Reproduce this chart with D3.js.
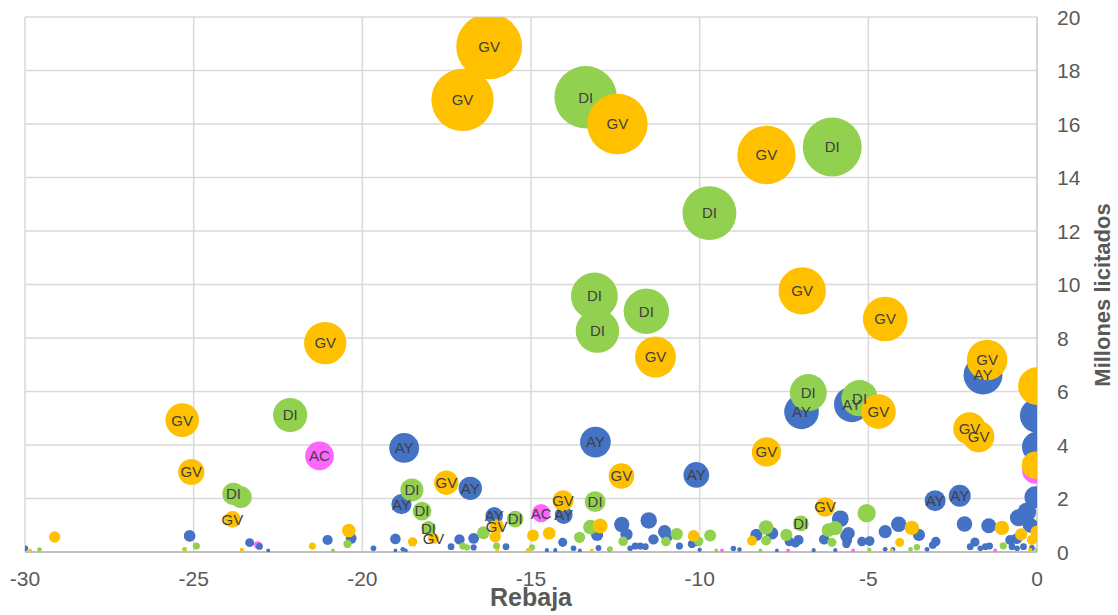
<!DOCTYPE html>
<html>
    <head>
        <title>Rebaja vs Millones licitados</title>
        <script src="https://d3js.org/d3.v7.min.js"></script>
        <style>
            body { margin: 0; background: #fff; }
            svg { display: block; font-family: "Liberation Sans", Arial, sans-serif; }
        </style>
    </head>
    <body>
        <script>
            // [rebaja, millones, label?]
            const AC = [
                [-21.27, 3.59, 1], [-14.7, 1.45, 1],
                [-0.05, 3.05], [-23.1, 0.26], [-9.34, 0.06], [-7.38, 0.06], [-5.45, 0.06], [-1.24, 0.06]
            ];
            const AY = [
                [-18.76, 3.89, 1], [-13.09, 4.11, 1], [-10.1, 2.88, 1], [-6.98, 5.24, 1], [-5.49, 5.52, 1],
                [-1.6, 6.62, 1], [-18.84, 1.79, 1], [-16.8, 2.38, 1], [-16.09, 1.35, 1], [-14.03, 1.38, 1],
                [-3.02, 1.92, 1], [-2.29, 2.1, 1],
                [0, 5.1], [0, 3.93], [-0.05, 2.05], [-0.3, 1.5], [-0.55, 1.28], [-0.2, 1.0],
                [-29.99, 0.14], [-25.12, 0.6], [-23.34, 0.35], [-23.05, 0.21], [-22.79, 0.06], [-21.03, 0.45],
                [-20.33, 0.51], [-19.67, 0.14], [-19.02, 0.49], [-19.02, 0.06], [-18.8, 0.1], [-18.71, 0.06],
                [-17.37, 0.2], [-17.12, 0.47], [-16.7, 0.51], [-16.7, 0.17], [-15.74, 0.2], [-14.53, 0.07],
                [-14.28, 0.07], [-14.06, 0.36], [-13.74, 0.14], [-13.55, 0.06], [-13.04, 0.64], [-13.0, 0.15],
                [-12.67, 0.1], [-12.31, 1.03], [-12.17, 0.66], [-12.06, 0.14], [-11.91, 0.22], [-11.76, 0.22],
                [-11.61, 0.2], [-11.51, 1.18], [-11.37, 0.47], [-11.04, 0.76], [-10.97, 0.57], [-10.6, 0.22],
                [-10.23, 0.3], [-10.1, 0.39], [-10.0, 0.08], [-9.0, 0.13], [-8.82, 0.09], [-8.32, 0.64],
                [-7.86, 0.7], [-7.71, 0.06], [-7.34, 0.39], [-7.07, 0.45], [-7.16, 0.33], [-6.62, 0.07],
                [-6.31, 0.47], [-5.83, 1.24], [-5.98, 0.07], [-5.59, 0.7], [-5.66, 0.6], [-5.63, 0.45],
                [-5.65, 0.3], [-5.19, 0.39], [-4.96, 0.41], [-4.5, 0.76], [-4.5, 0.1], [-4.27, 0.1],
                [-4.1, 1.04], [-3.5, 0.64], [-3.26, 0.1], [-3.09, 0.26], [-3.0, 0.39], [-2.15, 1.05],
                [-1.98, 0.2], [-1.84, 0.37], [-1.68, 0.14], [-1.53, 0.2], [-1.43, 0.98], [-1.41, 0.22],
                [-0.79, 0.45], [-0.74, 0.2], [-0.59, 0.14], [-0.4, 0.2], [-0.6, 0.5], [-0.15, 0.15]
            ];
            const DI = [
                [-13.38, 17.0, 1], [-6.07, 15.14, 1], [-9.71, 12.67, 1], [-13.12, 9.57, 1], [-13.03, 8.26, 1],
                [-11.58, 9.0, 1], [-22.14, 5.12, 1], [-6.78, 5.96, 1], [-5.26, 5.75, 1], [-23.82, 2.17, 1],
                [-18.53, 2.32, 1], [-18.23, 1.53, 1], [-18.04, 0.89, 1], [-15.47, 1.23, 1], [-13.1, 1.88, 1],
                [-7.0, 1.07, 1],
                [-23.6, 2.05], [-29.57, 0.09], [-25.27, 0.1], [-24.92, 0.22], [-20.87, 0.06], [-20.44, 0.3],
                [-17.02, 0.22], [-16.9, 0.17], [-16.41, 0.72], [-16.02, 0.22], [-14.97, 0.17], [-13.56, 0.55],
                [-13.24, 0.93], [-12.65, 0.12], [-12.27, 0.4], [-11.0, 0.39], [-10.68, 0.67], [-10.03, 0.4],
                [-9.69, 0.62], [-9.51, 0.06], [-8.2, 0.06], [-8.03, 0.92], [-8.03, 0.43], [-7.43, 0.64],
                [-6.18, 0.82], [-5.98, 0.89], [-6.08, 0.36], [-5.05, 1.45], [-4.97, 0.08], [-3.75, 0.1],
                [-3.56, 0.18], [-1.0, 0.23], [0, 0.08]
            ];
            const GV = [
                [-16.24, 18.9, 1], [-17.03, 16.9, 1], [-12.44, 16.0, 1], [-8.02, 14.84, 1], [-6.96, 9.76, 1],
                [-4.5, 8.71, 1], [-11.31, 7.29, 1], [-21.1, 7.81, 1], [-25.34, 4.93, 1], [-4.7, 5.25, 1],
                [-1.48, 7.18, 1], [-2.0, 4.62, 1], [-1.73, 4.31, 1], [-8.02, 3.74, 1], [-12.32, 2.84, 1],
                [-25.07, 2.99, 1], [-17.51, 2.59, 1], [-23.85, 1.22, 1], [-17.89, 0.51, 1], [-16.02, 0.95, 1],
                [-14.05, 1.92, 1], [-6.28, 1.68, 1],
                [0, 6.2], [-0.05, 3.25], [0, 0.75], [-0.47, 0.66], [-1.04, 0.9], [-0.15, 0.45], [-0.2, 0.08],
                [-29.85, 0.06], [-29.12, 0.56], [-25.27, 0.06], [-23.57, 0.08], [-21.48, 0.22], [-20.4, 0.8],
                [-18.51, 0.38], [-16.06, 0.57], [-16.0, 0.06], [-15.07, 0.08], [-14.94, 0.62], [-15.1, 0.06],
                [-14.46, 0.7], [-13.2, 0.06], [-12.95, 0.97], [-10.18, 0.6], [-8.45, 0.42], [-4.07, 0.36],
                [-3.71, 0.9], [-4.3, 0.06]
            ];
            const SERIES = [
                { name: "AC", color: "#FF66FF", data: AC },
                { name: "AY", color: "#4472C4", data: AY },
                { name: "DI", color: "#92D050", data: DI },
                { name: "GV", color: "#FFC000", data: GV }
            ];
            const X_TICKS = [-30, -25, -20, -15, -10, -5, 0];
            const Y_TICKS = [0, 2, 4, 6, 8, 10, 12, 14, 16, 18, 20];

            const width = 1118;
            const height = 615;
            const plotLeft = 25, plotRight = 1037, plotTop = 17, plotBottom = 552;

            const svg = d3.select("body")
                .append("svg")
                .attr("width", width)
                .attr("height", height);

            const x = d3.scaleLinear().domain([-30, 0]).range([plotLeft, plotRight]);
            const y = d3.scaleLinear().domain([0, 20]).range([plotBottom, plotTop]);
            const r = d3.scaleSqrt().domain([0, 19]).range([0, 33]);

            svg.append("defs").append("clipPath")
                .attr("id", "plot")
                .append("rect")
                .attr("x", plotLeft).attr("y", plotTop)
                .attr("width", plotRight - plotLeft).attr("height", plotBottom - plotTop);

            // grid
            svg.append("g")
                .selectAll("line")
                .data(Y_TICKS.slice(1))
                .join("line")
                .attr("x1", plotLeft).attr("x2", plotRight)
                .attr("y1", d => y(d)).attr("y2", d => y(d))
                .attr("stroke", "#d9d9d9")
                .attr("stroke-width", 1.5);

            svg.append("g")
                .selectAll("line")
                .data(X_TICKS)
                .join("line")
                .attr("x1", d => x(d)).attr("x2", d => x(d))
                .attr("y1", plotTop).attr("y2", plotBottom)
                .attr("stroke", d => d === 0 ? "#c8c8c8" : "#d9d9d9")
                .attr("stroke-width", 1.5);

            svg.append("line")
                .attr("x1", plotLeft).attr("x2", plotRight)
                .attr("y1", plotBottom).attr("y2", plotBottom)
                .attr("stroke", "#bfbfbf")
                .attr("stroke-width", 2);

            // bubbles
            const bubbles = svg.append("g").attr("clip-path", "url(#plot)");
            SERIES.forEach(s => {
                bubbles.append("g")
                    .selectAll("circle")
                    .data(s.data)
                    .join("circle")
                    .attr("cx", d => x(d[0]))
                    .attr("cy", d => y(d[1]))
                    .attr("r", d => r(d[1]))
                    .attr("fill", s.color);
            });

            // labels on top of everything
            const labels = svg.append("g")
                .attr("font-size", 15)
                .attr("fill", "#404040")
                .attr("text-anchor", "middle");
            SERIES.forEach(s => {
                labels.selectAll(null)
                    .data(s.data.filter(d => d[2]))
                    .enter()
                    .append("text")
                    .attr("x", d => x(d[0]))
                    .attr("y", d => y(d[1]))
                    .attr("dy", "0.36em")
                    .text(s.name);
            });

            // axes text
            svg.append("g")
                .attr("font-size", 21)
                .attr("fill", "#595959")
                .attr("text-anchor", "middle")
                .selectAll("text")
                .data(X_TICKS)
                .join("text")
                .attr("x", d => x(d))
                .attr("y", 586)
                .text(d => d);

            svg.append("g")
                .attr("font-size", 21)
                .attr("fill", "#595959")
                .selectAll("text")
                .data(Y_TICKS)
                .join("text")
                .attr("x", 1057)
                .attr("y", d => y(d))
                .attr("dy", "0.36em")
                .text(d => d);

            svg.append("text")
                .attr("x", (plotLeft + plotRight) / 2)
                .attr("y", 606)
                .attr("text-anchor", "middle")
                .attr("font-size", 25)
                .attr("font-weight", "bold")
                .attr("fill", "#595959")
                .text("Rebaja");

            svg.append("text")
                .attr("transform", "translate(1110," + 295 + ") rotate(-90)")
                .attr("text-anchor", "middle")
                .attr("font-size", 22)
                .attr("font-weight", "bold")
                .attr("fill", "#595959")
                .text("Millones licitados");
        </script>
    </body>
</html>
